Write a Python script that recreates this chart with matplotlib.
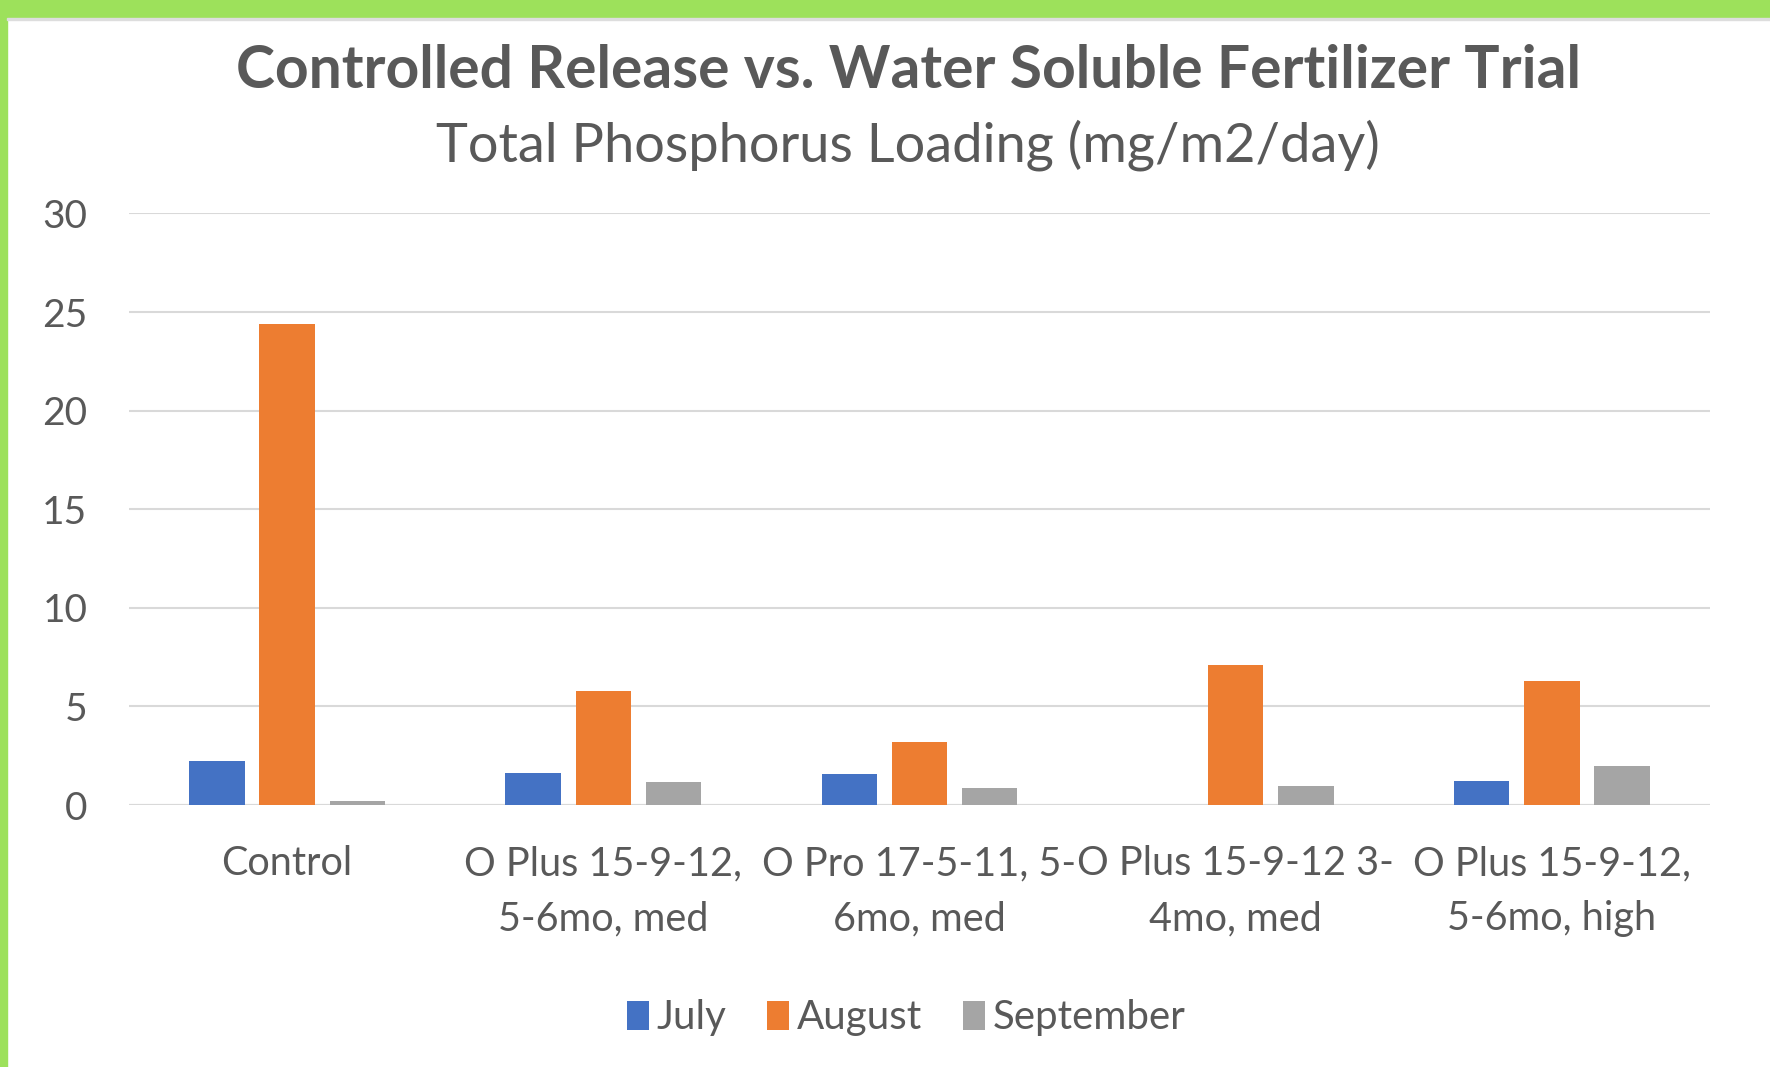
import numpy as np
import matplotlib.pyplot as plt
from matplotlib.patches import Rectangle

# Данные
categories = ['Control', 'O Plus 15-9-12,\n5-6mo, med', 'O Pro 17-5-11, 5-\n6mo, med',
              'O Plus 15-9-12 3-\n4mo, med', 'O Plus 15-9-12,\n5-6mo, high']
months = ['July', 'August', 'September']
july = [2.25, 1.6, 1.55, 0.0, 1.2]
august = [24.4, 5.8, 3.2, 7.1, 6.3]
september = [0.2, 1.15, 0.85, 0.95, 2.0]
colors = ['#4472c4', '#ed7d31', '#a5a5a5']
text_color = '#595959'

plt.rcParams['font.family'] = ['Lato', 'DejaVu Sans']

fig = plt.figure(figsize=(17.7, 10.67), dpi=100)
fig.patch.set_facecolor('white')

# Зелёная рамка сверху и слева
fig.patches.append(Rectangle((0, 0.983), 1, 0.017, transform=fig.transFigure,
                             color='#9de15b', zorder=0))
fig.patches.append(Rectangle((0, 0), 0.0038, 1, transform=fig.transFigure,
                             color='#9de15b', zorder=0))
fig.patches.append(Rectangle((0.0038, 0.981), 1, 0.002, transform=fig.transFigure,
                             color='#dddddd', zorder=0))

ax = fig.add_axes([0.0729, 0.2455, 0.8932, 0.5545])

x = np.arange(len(categories))
width = 0.175
step = 0.222
for j, (vals, name) in enumerate(zip([july, august, september], months)):
    ax.bar(x + (j - 1) * step, vals, width, color=colors[j], label=name, zorder=3)

ax.set_xlim(-0.5, len(categories) - 0.5)
ax.set_ylim(0, 30)
ax.set_yticks(np.arange(0, 31, 5))
ax.yaxis.grid(True, color='#d9d9d9', linewidth=1.5, zorder=0)
ax.set_axisbelow(True)
for s in ax.spines.values():
    s.set_visible(False)
ax.axhline(0, color='#d9d9d9', linewidth=1.5, zorder=2)

ax.set_xticks(x)
ax.set_xticklabels(categories, fontsize=28.5, color=text_color, linespacing=1.6)
ax.tick_params(axis='x', length=0, pad=29)
ax.tick_params(axis='y', length=0, pad=30, labelsize=28, labelcolor=text_color)

fig.text(0.513, 0.933, 'Controlled Release vs. Water Soluble Fertilizer Trial',
         ha='center', va='center', fontsize=42.3, fontweight='bold', color=text_color)
fig.text(0.513, 0.864, 'Total Phosphorus Loading (mg/m2/day)',
         ha='center', va='center', fontsize=39, color=text_color)

leg = fig.legend(loc='center', bbox_to_anchor=(0.512, 0.046), ncol=3, frameon=False,
                 fontsize=29, handlelength=0.55, handleheight=0.75, handletextpad=0.2,
                 columnspacing=1.0)
for t in leg.get_texts():
    t.set_color(text_color)

fig.savefig('out.png', dpi=100)
